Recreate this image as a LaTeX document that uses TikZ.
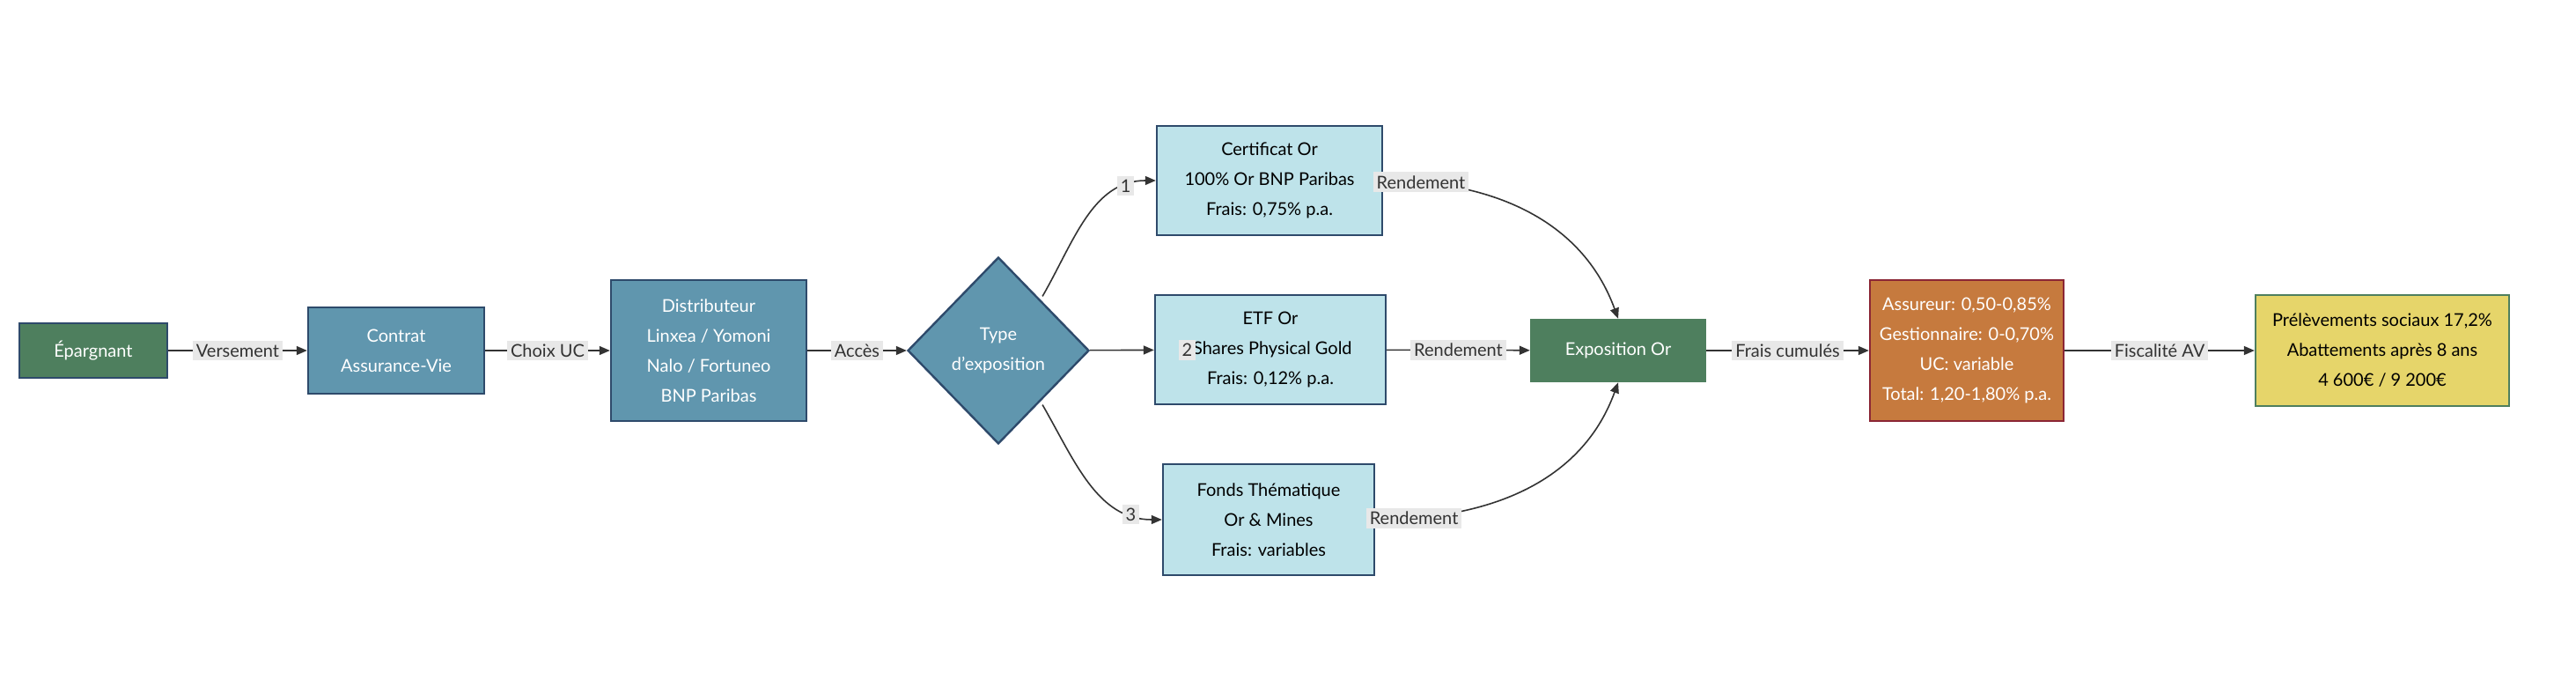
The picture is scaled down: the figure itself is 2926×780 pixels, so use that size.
\documentclass[tikz,border=0pt]{standalone}
\usepackage{fontspec}
\setmainfont{Lato}
\usetikzlibrary{shapes.geometric,arrows.meta}
\definecolor{gr}{HTML}{4E7F5E}
\definecolor{bl}{HTML}{6096AE}
\definecolor{lb}{HTML}{BEE3EA}
\definecolor{bd}{HTML}{2E4A6B}
\definecolor{or}{HTML}{C67A3E}
\definecolor{ye}{HTML}{E6D56A}
\definecolor{rd}{HTML}{8B2635}
\definecolor{lab}{HTML}{E8E8E8}
\begin{document}
\begin{tikzpicture}[x=0.5pt,y=-0.5pt,
 box/.style={draw=bd,line width=1.2pt,align=center,font=\fontsize{10}{17}\selectfont,inner sep=0pt},
 wt/.style={text=white},
 lbl/.style={fill=lab,font=\fontsize{10}{12}\selectfont,inner sep=2pt,text=black!80},
 ar/.style={draw=black!80,line width=0.8pt,-{Triangle[length=6pt,width=5pt]}}]
\useasboundingbox (0,0) rectangle (2926,780);
\node[box,wt,fill=gr,minimum width=84pt,minimum height=31pt] (ep) at (106,398) {Épargnant};
\node[box,wt,fill=bl,minimum width=100pt,minimum height=49pt] (ct) at (450,398) {Contrat\\Assurance-Vie};
\node[box,wt,fill=bl,minimum width=111pt,minimum height=80pt] (di) at (805,398) {Distributeur\\Linxea / Yomoni\\Nalo / Fortuneo\\BNP Paribas};
\node[box,wt,fill=bl,diamond,minimum width=103pt,minimum height=106pt,aspect=1] (ty) at (1134,398) {Type\\d'exposition};
\node[box,fill=lb,minimum width=128pt,minimum height=62pt] (c1) at (1442,205) {Certificat Or\\100\% Or BNP Paribas\\Frais: 0,75\% p.a.};
\node[box,fill=lb,minimum width=131pt,minimum height=62pt] (c2) at (1443,397) {ETF Or\\iShares Physical Gold\\Frais: 0,12\% p.a.};
\node[box,fill=lb,minimum width=120pt,minimum height=63pt] (c3) at (1441,590) {Fonds Thématique\\Or \& Mines\\Frais: variables};
\node[box,wt,fill=gr,draw=gr,minimum width=99pt,minimum height=35pt] (ex) at (1838,398) {Exposition Or};
\node[box,wt,fill=or,draw=rd,minimum width=110pt,minimum height=80pt] (fr) at (2234,398) {Assureur: 0,50-0,85\%\\Gestionnaire: 0-0,70\%\\UC: variable\\Total: 1,20-1,80\% p.a.};
\node[box,fill=ye,draw=gr,minimum width=144pt,minimum height=63pt] (fi) at (2706,398) {Prélèvements sociaux 17,2\%\\Abattements après 8 ans\\4 600€ / 9 200€};
\draw[ar] (ep) -- node[lbl]{Versement} (ct);
\draw[ar] (ct) -- node[lbl]{Choix UC} (di);
\draw[ar] (di) -- node[lbl]{Accès} (ty);
\draw[ar] (ty.north east) ++(-2,-8) to[out=-60+120,in=180] node[lbl,pos=0.82]{1} (c1.west);
\draw[ar] (ty) -- node[lbl,pos=0.5,xshift=37]{2} (c2);
\draw[ar] (ty.south east) ++(-2,8) to[out=-60,in=180] node[lbl,pos=0.82]{3} (c3.west);
\draw[ar] (c1.east) to[out=0,in=110] node[lbl,pos=0.12]{Rendement} (ex.north);
\draw[ar] (c2) -- node[lbl]{Rendement} (ex);
\draw[ar] (c3.east) to[out=0,in=-110] node[lbl,pos=0.12]{Rendement} (ex.south);
\draw[ar] (ex) -- node[lbl]{Frais cumulés} (fr);
\draw[ar] (fr) -- node[lbl]{Fiscalité AV} (fi);
\end{tikzpicture}
\end{document}
